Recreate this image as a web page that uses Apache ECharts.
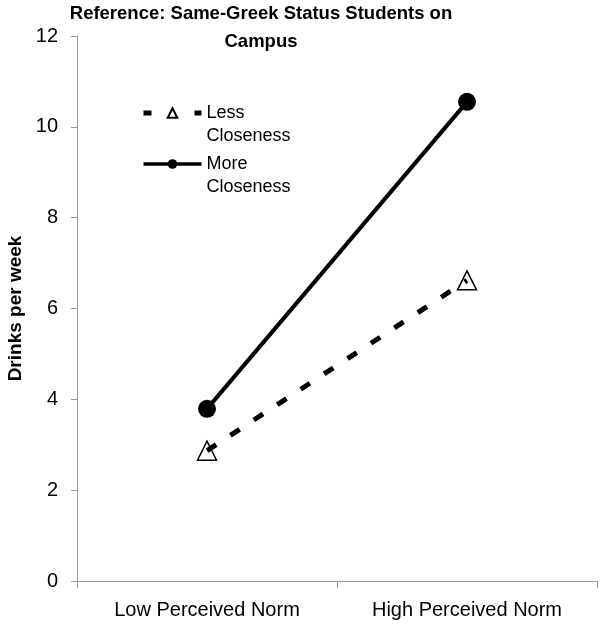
<!DOCTYPE html>
<html>
<head>
<meta charset="utf-8">
<script src="https://cdn.jsdelivr.net/npm/echarts@6/dist/echarts.min.js"></script>
<style>html,body{margin:0;padding:0;background:#fff}#c{width:603px;height:629px}</style>
</head>
<body>
<div id="c"></div>
<script>
const titleText = 'Reference: Same-Greek Status Students on\nCampus';
const categories = ['Low Perceived Norm', 'High Perceived Norm'];
const lessCloseness = [2.87, 6.62];
const moreCloseness = [3.79, 10.55];
const yTicks = [0, 2, 4, 6, 8, 10, 12];
const seriesNames = ['Less Closeness', 'More Closeness'];

const FONT = 'Liberation Sans, Arial, sans-serif';
const chart = echarts.init(document.getElementById('c'), null, {renderer: 'canvas'});
chart.setOption({
  backgroundColor: '#fff',
  animation: false,
  title: {
    text: titleText,
    left: 261,
    textAlign: 'center',
    top: 0,
    padding: 0,
    textStyle: {fontFamily: FONT, fontSize: 18.5, fontWeight: 'bold', color: '#000', lineHeight: 28}
  },
  legend: {
    orient: 'vertical',
    left: 141,
    top: 78.5,
    padding: 0,
    itemGap: -18,
    itemWidth: 58,
    itemHeight: 12,
    data: [
      {name: seriesNames[0], lineStyle: {type: [8, 43], width: 5}},
      {name: seriesNames[1], lineStyle: {width: 3.5}}
    ],
    formatter: function (n) { return '\n' + n.replace(' ', '\n'); },
    textStyle: {fontFamily: FONT, fontSize: 18, color: '#000', lineHeight: 23}
  },
  grid: {left: 77, right: 6, top: 36, bottom: 48, containLabel: false, outerBoundsMode: 'none'},
  xAxis: {
    type: 'category',
    data: categories,
    boundaryGap: true,
    axisLine: {lineStyle: {color: '#999', width: 1}},
    axisTick: {show: true, length: 7, lineStyle: {color: '#999'}},
    axisLabel: {fontFamily: FONT, fontSize: 20, color: '#000', margin: 19},
    splitLine: {show: false}
  },
  yAxis: {
    type: 'value',
    min: yTicks[0],
    max: yTicks[yTicks.length - 1],
    interval: 2,
    name: 'Drinks per week',
    nameLocation: 'middle',
    nameGap: 52,
    nameTextStyle: {fontFamily: FONT, fontSize: 19, fontWeight: 'bold', color: '#000'},
    axisLine: {show: true, lineStyle: {color: '#999', width: 1}},
    axisTick: {show: true, length: 6, lineStyle: {color: '#999'}},
    axisLabel: {fontFamily: FONT, fontSize: 20, color: '#000', margin: 19},
    splitLine: {show: false}
  },
  series: [
    {
      name: seriesNames[0],
      type: 'line',
      data: lessCloseness,
      symbol: 'triangle',
      symbolSize: 19,
      lineStyle: {color: '#000', width: 5, type: [11, 17]},
      itemStyle: {color: 'rgba(255,255,255,0)', borderColor: '#000', borderWidth: 1.5}
    },
    {
      name: seriesNames[1],
      type: 'line',
      data: moreCloseness,
      symbol: 'circle',
      symbolSize: 18,
      lineStyle: {color: '#000', width: 4, type: 'solid'},
      itemStyle: {color: '#000', borderColor: '#000', borderWidth: 0}
    }
  ]
});
</script>
</body>
</html>
